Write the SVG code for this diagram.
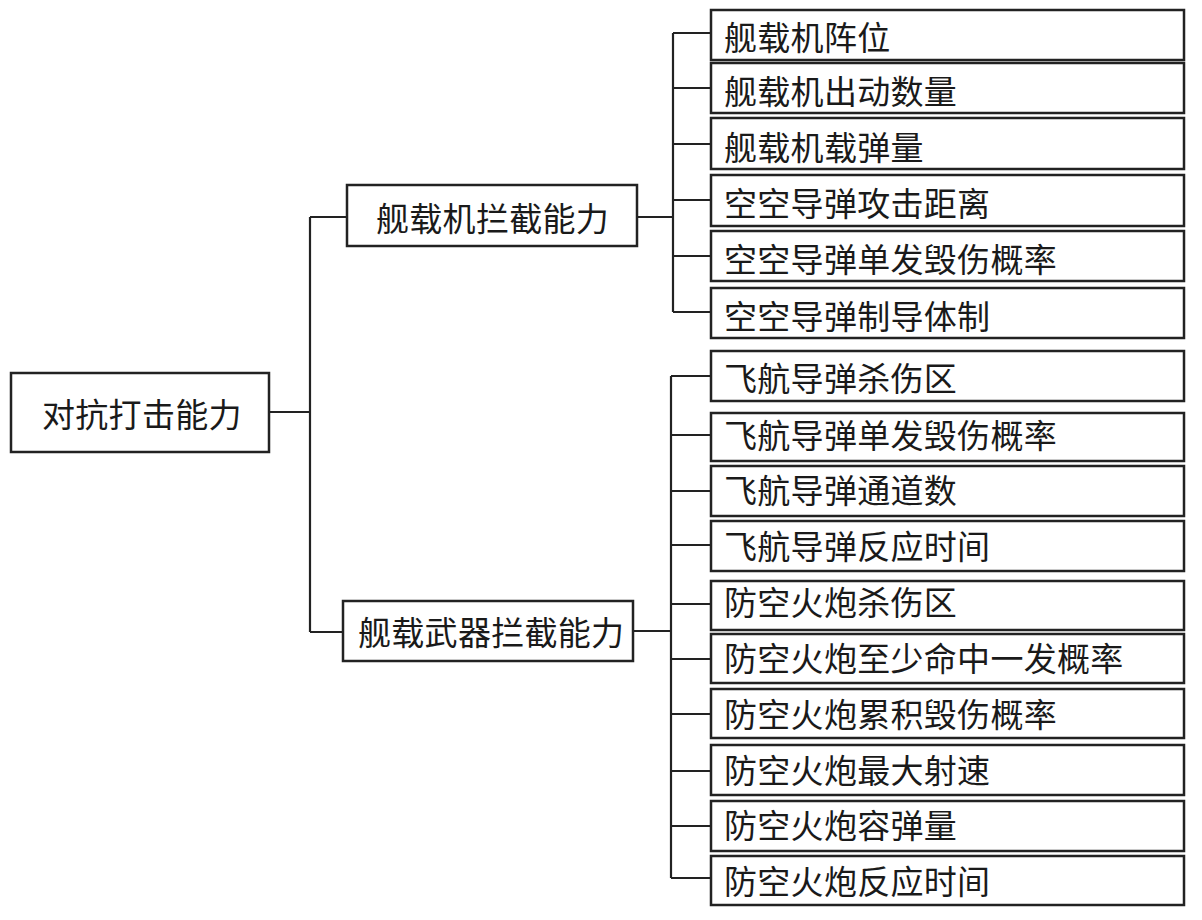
<svg xmlns="http://www.w3.org/2000/svg" width="1202" height="920" viewBox="0 0 1202 920">
<style>
rect{fill:#fff;stroke:#222;stroke-width:2.5}
text{font-family:"Noto Sans CJK SC","Noto Sans CJK JP",sans-serif;font-size:33px;letter-spacing:0.3px;fill:#1a1a1a;dominant-baseline:central}
.c path{fill:none;stroke:#222;stroke-width:2.2}
</style>
<rect x="0" y="0" width="1202" height="920" style="fill:#fff;stroke:none"/>
<g class="c" id="connectors">
<path d="M269 412H310M310 217V632M310 217H347M310 632H343"/>
<path d="M637 217H673M673 33V312M673 33H711M673 88H711M673 144H711M673 200H711M673 256H711M673 312H711"/>
<path d="M633 631H671M671 376V878M671 376H711M671 435H711M671 491H711M671 545H711M671 604H711M671 659H711M671 714H711M671 771H711M671 826H711M671 878H711"/>
</g>
<g id="root"><rect x="11" y="373" width="258" height="79"/><text x="42" y="413">对抗打击能力</text></g>
<g id="n1"><rect x="347" y="185" width="290" height="61"/><text x="376" y="217">舰载机拦截能力</text></g>
<g id="n2"><rect x="343" y="601" width="290" height="60"/><text x="358" y="631">舰载武器拦截能力</text></g>
<g id="l1"><rect x="711" y="10" width="473" height="50"/><text x="724" y="36">舰载机阵位</text></g>
<g id="l2"><rect x="711" y="63" width="473" height="50"/><text x="724" y="90">舰载机出动数量</text></g>
<g id="l3"><rect x="711" y="118" width="473" height="51"/><text x="724" y="146">舰载机载弹量</text></g>
<g id="l4"><rect x="711" y="175" width="473" height="51"/><text x="724" y="202">空空导弹攻击距离</text></g>
<g id="l5"><rect x="711" y="231" width="473" height="50"/><text x="724" y="258">空空导弹单发毁伤概率</text></g>
<g id="l6"><rect x="711" y="288" width="473" height="50"/><text x="724" y="315">空空导弹制导体制</text></g>
<g id="m1"><rect x="711" y="351" width="473" height="50"/><text x="724" y="377">飞航导弹杀伤区</text></g>
<g id="m2"><rect x="711" y="413" width="473" height="48"/><text x="724" y="434">飞航导弹单发毁伤概率</text></g>
<g id="m3"><rect x="711" y="466" width="473" height="50"/><text x="724" y="489">飞航导弹通道数</text></g>
<g id="m4"><rect x="711" y="521" width="473" height="50"/><text x="724" y="545">飞航导弹反应时间</text></g>
<g id="m5"><rect x="711" y="581" width="473" height="49"/><text x="724" y="601">防空火炮杀伤区</text></g>
<g id="m6"><rect x="711" y="634" width="473" height="49"/><text x="724" y="657">防空火炮至少命中一发概率</text></g>
<g id="m7"><rect x="711" y="689" width="473" height="49"/><text x="724" y="713">防空火炮累积毁伤概率</text></g>
<g id="m8"><rect x="711" y="745" width="473" height="50"/><text x="724" y="769">防空火炮最大射速</text></g>
<g id="m9"><rect x="711" y="801" width="473" height="50"/><text x="724" y="824">防空火炮容弹量</text></g>
<g id="m10"><rect x="711" y="856" width="473" height="49"/><text x="724" y="880">防空火炮反应时间</text></g>
</svg>
